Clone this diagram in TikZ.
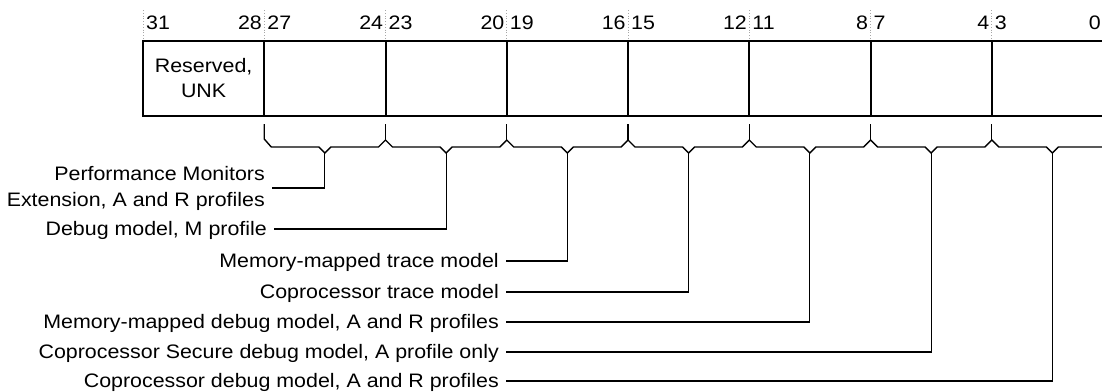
\documentclass[tikz,border=0pt]{standalone}
\usepackage{fontspec}
\setmainfont[FakeStretch=1.097]{Liberation Sans}
\begin{document}
\begin{tikzpicture}[x=1pt,y=-1pt,
  font=\fontsize{19.5}{25}\selectfont,
  field/.style={draw, line width=2pt, minimum width=121.25pt, minimum height=75pt, inner sep=0pt, outer sep=0pt, align=center},
  guide/.style={gray!70, dotted, line width=0.8pt},
  brc/.style={line width=1.4pt, line join=miter},
  lead/.style={line width=1.1pt},
  lbl/.style={anchor=east, inner xsep=7pt, inner ysep=0pt, text height=12pt, text depth=0pt, align=right},
  hib/.style={anchor=base west, inner sep=0pt},
  lob/.style={anchor=base east, inner sep=0pt}]
\useasboundingbox (0,0) rectangle (1102,391);
% guides
\foreach \i in {0,...,7}
  \draw[guide] ({143+\i*121.25},10) -- ({143+\i*121.25},41);
% fields
\node[field] (f0) at (203.625,78.5) {\fontsize{19.5}{25}\selectfont Reserved,\\UNK};
\foreach \i in {1,...,7}
  \node[field] (f\i) at ({203.625+\i*121.25},78.5) {};
% bit numbers
\foreach \i [evaluate=\i as \hi using int(31-4*\i), evaluate=\i as \lo using int(28-4*\i)] in {0,...,6} {
  \node[hib] (hi\i) at ({146+\i*121.25},29) {\hi};
  \node[lob] (lo\i) at ({262+\i*121.25},29) {\lo};
}
\node[hib] (hi7) at (994.75,29) {3};
\node[lob] (lo7) at (1101,29) {0};
% brace
\foreach \i in {2,...,7}
  \draw[brc] ({143+\i*121.25},124) -- ({143+\i*121.25},140);
\draw[brc] (264.25,124) -- (264.25,139) -- (271.25,147)
  foreach \i in {1,...,6} { -- ({\i*121.25+197.625},147) -- ({\i*121.25+203.625},153) -- ({\i*121.25+209.625},147)
     -- ({\i*121.25+257.25},147) -- ({\i*121.25+264.25},140) -- ({\i*121.25+271.25},147) }
  -- (1046.375,147) -- (1052.375,153) -- (1058.375,147) -- (1113,147);
\foreach \i in {1,...,7}
  \coordinate (v\i) at ({203.625+\i*121.25},153);
% labels
\node[anchor=east, inner xsep=7pt, inner ysep=0pt, align=right, font=\fontsize{19.5}{26}\selectfont] (perf) at (272,188) {Performance Monitors\\Extension, A and R profiles};
\node[lbl] (dbgm) at (274,229) {Debug model, M profile};
\node[lbl] (mmt) at (506,261) {Memory-mapped trace model};
\node[lbl] (cpt) at (506,292) {Coprocessor trace model};
\node[lbl] (mmd) at (506,322) {Memory-mapped debug model, A and R profiles};
\node[lbl] (cps) at (506,352) {Coprocessor Secure debug model, A profile only};
\node[lbl] (cpd) at (506,381) {Coprocessor debug model, A and R profiles};
% leaders
\draw[lead] (perf.east) -| (v1);
\draw[lead] (dbgm.east) -| (v2);
\draw[lead] (mmt.east) -| (v3);
\draw[lead] (cpt.east) -| (v4);
\draw[lead] (mmd.east) -| (v5);
\draw[lead] (cps.east) -| (v6);
\draw[lead] (cpd.east) -| (v7);
\end{tikzpicture}
\end{document}
